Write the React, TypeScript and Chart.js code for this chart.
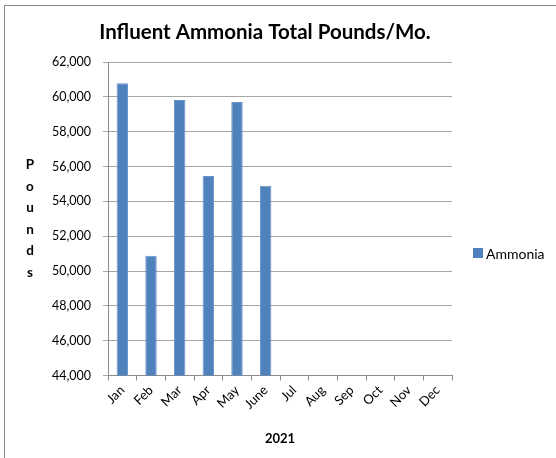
import React, { useEffect, useRef } from 'react';
import { Chart, registerables } from 'chart.js';

Chart.register(...registerables);

const categories = ['Jan', 'Feb', 'Mar', 'Apr', 'May', 'June', 'Jul', 'Aug', 'Sep', 'Oct', 'Nov', 'Dec'];
const ammonia = [60780, 50880, 59820, 55460, 59700, 54890, null, null, null, null, null, null];
const yMin = 44000;
const yMax = 62000;
const yStep = 2000;
const chartTitle = 'Influent Ammonia Total Pounds/Mo.';
const yTitle = 'Pounds';
const xTitle = '2021';
const seriesLabel = 'Ammonia';

const FONT = 'Lato, "Open Sans", sans-serif';
const BAR_COLOR = '#4f81bd';

const textPlugin = {
  id: 'customText',
  afterDraw(chart: any) {
    const { ctx, chartArea } = chart;
    ctx.save();
    ctx.fillStyle = '#000';
    // Title
    ctx.font = `bold 20.5px ${FONT}`;
    ctx.textAlign = 'center';
    ctx.textBaseline = 'alphabetic';
    ctx.fillText(chartTitle, 265, 39);
    // Stacked y-axis title
    ctx.font = `bold 13.5px ${FONT}`;
    ctx.textBaseline = 'middle';
    const letters = yTitle.split('');
    const spacing = 21.5;
    const cy = (chartArea.top + chartArea.bottom) / 2;
    letters.forEach((ch, i) => {
      ctx.fillText(ch, 30, cy + (i - (letters.length - 1) / 2) * spacing);
    });
    // Legend
    const lx = chartArea.right + 21;
    const ly = 253;
    ctx.fillStyle = BAR_COLOR;
    ctx.fillRect(lx, ly - 5, 10, 10);
    ctx.fillStyle = '#000';
    ctx.font = `14px ${FONT}`;
    ctx.textAlign = 'left';
    ctx.fillText(seriesLabel, lx + 13, ly + 1);
    ctx.restore();
  },
};

export default function App() {
  const canvasRef = useRef<HTMLCanvasElement | null>(null);

  useEffect(() => {
    if (!canvasRef.current) return;
    const chart = new Chart(canvasRef.current, {
      type: 'bar',
      data: {
        labels: categories,
        datasets: [
          {
            label: seriesLabel,
            data: ammonia,
            backgroundColor: BAR_COLOR,
            borderColor: '#6a93c8',
            borderWidth: 1,
            categoryPercentage: 1,
            barPercentage: 0.4,
          },
        ],
      },
      options: {
        animation: false,
        responsive: false,
        maintainAspectRatio: false,
        layout: { padding: { top: 62, right: 104, bottom: 11, left: 0 } },
        plugins: {
          legend: { display: false },
          title: { display: false },
          tooltip: { enabled: false },
        },
        scales: {
          x: {
            grid: {
              display: true,
              drawOnChartArea: false,
              drawTicks: true,
              tickLength: 5,
              color: '#8c8c8c',
              offset: true,
            },
            border: { display: true, color: '#8c8c8c', width: 1 },
            ticks: {
              color: '#000',
              font: { family: FONT, size: 13 },
              minRotation: 45,
              maxRotation: 45,
              autoSkip: false,
              padding: 2,
            },
            title: {
              display: true,
              text: xTitle,
              color: '#000',
              font: { family: FONT, size: 13, weight: 'bold' },
              padding: { top: 17, bottom: 0 },
            },
          },
          y: {
            min: yMin,
            max: yMax,
            afterFit: (scale: any) => {
              scale.width = 108;
            },
            grid: {
              color: '#a6a6a6',
              tickLength: 5,
            },
            border: { display: true, color: '#8c8c8c', width: 1 },
            ticks: {
              stepSize: yStep,
              color: '#000',
              font: { family: FONT, size: 12.5 },
              padding: 12,
              callback: (v: any) => Number(v).toLocaleString('en-US'),
            },
          },
        },
      },
      plugins: [textPlugin],
    });
    return () => chart.destroy();
  }, []);

  return (
    <div style={{ position: 'fixed', left: 0, top: 0, width: 556, height: 458, background: '#fff' }}>
      <div
        style={{
          position: 'absolute',
          left: 4,
          top: 5,
          right: 0,
          bottom: 0,
          borderLeft: '1px solid #868686',
          borderTop: '1px solid #868686',
        }}
      />
      <canvas ref={canvasRef} width={556} height={458} style={{ position: 'absolute', left: 0, top: 0 }} />
    </div>
  );
}
